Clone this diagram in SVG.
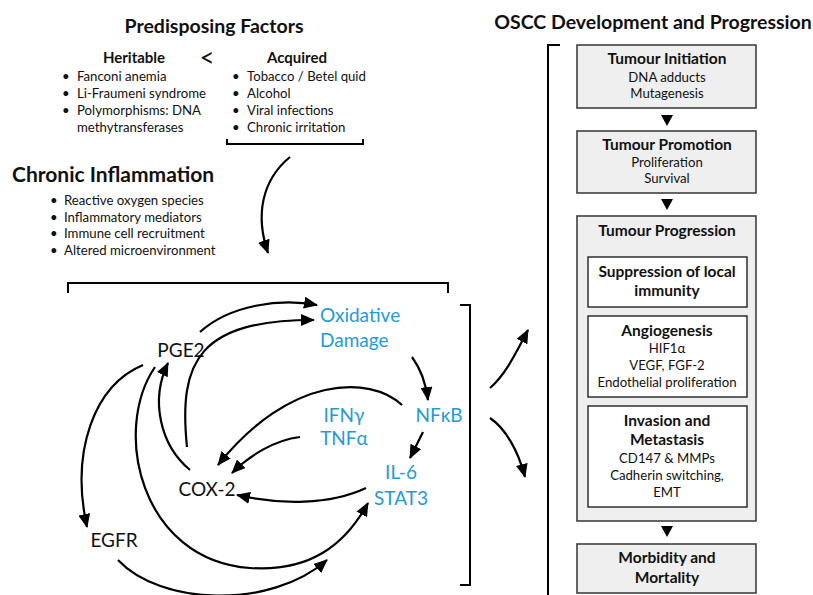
<svg xmlns="http://www.w3.org/2000/svg" width="813" height="595" viewBox="0 0 813 595">
<style>
text{font-family:Lato,"Open Sans","Liberation Sans",sans-serif;fill:#111}
.h1{font-size:19.5px;font-weight:bold}
.h2{font-size:15px;font-weight:bold}
.li{font-size:13.2px}
.bt{font-size:15.5px;font-weight:bold;text-anchor:middle}
.bb{font-size:13.2px;text-anchor:middle}
.node{font-size:19px}
.blue{fill:#1F9BD7}
.br{fill:none;stroke:#000;stroke-width:2}
.box{fill:#EFEFEF;stroke:#404040;stroke-width:1.6}
.ibox{fill:#fff;stroke:#222;stroke-width:1.4}
.con{fill:none;stroke:#000;stroke-width:2.2;marker-end:url(#ah)}
</style>
<defs>
<marker id="ah" markerUnits="userSpaceOnUse" viewBox="0 0 14 12" markerWidth="14" markerHeight="12" refX="13" refY="6" orient="auto">
<path d="M0,0 L14,6 L0,12 z" fill="#000"/>
</marker>
</defs>
<rect width="813" height="595" fill="#fff"/>

<g id="predisposing">
<text class="h1" x="214" y="33" text-anchor="middle">Predisposing Factors</text>
<text class="h2" x="134" y="63" text-anchor="middle">Heritable</text>
<text x="207" y="67" font-size="26" text-anchor="middle">&lt;</text>
<text class="h2" x="297" y="63" text-anchor="middle">Acquired</text>
<g class="li">
<text x="62" y="81">•</text><text x="77" y="81">Fanconi anemia</text>
<text x="62" y="98">•</text><text x="77" y="98">Li-Fraumeni syndrome</text>
<text x="62" y="115">•</text><text x="77" y="115">Polymorphisms: DNA</text>
<text x="77" y="132">methytransferases</text>
<text x="232" y="81">•</text><text x="247" y="81">Tobacco / Betel quid</text>
<text x="232" y="98">•</text><text x="247" y="98">Alcohol</text>
<text x="232" y="115">•</text><text x="247" y="115">Viral infections</text>
<text x="232" y="132">•</text><text x="247" y="132">Chronic irritation</text>
</g>
<path class="br" d="M227 139 L227 144 L363 144 L363 139"/>
</g>

<g id="chronic-inflammation">
<text class="h1" x="12" y="182" style="font-size:21px">Chronic Inflammation</text>
<g class="li">
<text x="50" y="205">•</text><text x="64" y="205">Reactive oxygen species</text>
<text x="50" y="222">•</text><text x="64" y="222">Inflammatory mediators</text>
<text x="50" y="238">•</text><text x="64" y="238">Immune cell recruitment</text>
<text x="50" y="255">•</text><text x="64" y="255">Altered microenvironment</text>
</g>
</g>

<g id="brackets">
<path class="br" d="M68 293 L68 283 L448 283 L448 293"/>
<path class="br" d="M460 305 L470 305 L470 585 L460 585"/>
<path class="br" d="M560 45 L548 45 L548 600"/>
</g>

<g id="pge2"><text class="node" x="181" y="357" text-anchor="middle">PGE2</text></g>
<g id="cox2"><text class="node" x="207" y="496" text-anchor="middle">COX-2</text></g>
<g id="egfr"><text class="node" x="114" y="547" text-anchor="middle">EGFR</text></g>
<g id="oxidative"><text class="node blue" x="320" y="322">Oxidative</text><text class="node blue" x="320" y="347">Damage</text></g>
<g id="nfkb"><text class="node blue" x="439" y="422" text-anchor="middle">NFκB</text></g>
<g id="ifn-tnf"><text class="node blue" x="344" y="422" text-anchor="middle">IFNγ</text><text class="node blue" x="344" y="445" text-anchor="middle">TNFα</text></g>
<g id="il6-stat3"><text class="node blue" x="401" y="479" text-anchor="middle">IL-6</text><text class="node blue" x="401" y="505" text-anchor="middle">STAT3</text></g>

<g id="oscc">
<text class="h1" x="653" y="29" text-anchor="middle">OSCC Development and Progression</text>
<g id="initiation">
<rect class="box" x="577" y="45" width="179" height="63"/>
<text class="bt" x="667" y="64">Tumour Initiation</text>
<text class="bb" x="667" y="82">DNA adducts</text>
<text class="bb" x="667" y="98">Mutagenesis</text>
</g>
<g id="promotion">
<rect class="box" x="577" y="131" width="179" height="62"/>
<text class="bt" x="667" y="150">Tumour Promotion</text>
<text class="bb" x="667" y="167">Proliferation</text>
<text class="bb" x="667" y="183">Survival</text>
</g>
<g id="progression">
<rect class="box" x="577" y="216" width="179" height="305"/>
<text class="bt" x="667" y="236">Tumour Progression</text>
<g id="suppression">
<rect class="ibox" x="588" y="257" width="159" height="50"/>
<text class="bt" x="667" y="277">Suppression of local</text>
<text class="bt" x="667" y="296">immunity</text>
</g>
<g id="angiogenesis">
<rect class="ibox" x="588" y="316" width="159" height="81"/>
<text class="bt" x="667" y="336">Angiogenesis</text>
<text class="bb" x="667" y="353">HIF1α</text>
<text class="bb" x="667" y="370">VEGF, FGF-2</text>
<text class="bb" x="667" y="387">Endothelial proliferation</text>
</g>
<g id="invasion">
<rect class="ibox" x="588" y="406" width="159" height="101"/>
<text class="bt" x="667" y="426">Invasion and</text>
<text class="bt" x="667" y="445">Metastasis</text>
<text class="bb" x="667" y="463">CD147 &amp; MMPs</text>
<text class="bb" x="667" y="480">Cadherin switching,</text>
<text class="bb" x="667" y="497">EMT</text>
</g>
</g>
<g id="morbidity">
<rect class="box" x="577" y="544" width="179" height="49"/>
<text class="bt" x="667" y="563">Morbidity and</text>
<text class="bt" x="667" y="583">Mortality</text>
</g>
</g>

<g id="connectors">
<polygon points="661,115 673,115 667,126" fill="#000"/>
<polygon points="661,199 673,199 667,210" fill="#000"/>
<polygon points="661,526 673,526 667,537" fill="#000"/>
<path class="con" d="M290 157 C262 180 255 215 268 253"/>
<path class="con" d="M412 357 Q425 375 428 400"/>
<path class="con" d="M423 432 L410 458"/>
<path class="con" d="M402 405 C370 375 290 375 218 465"/>
<path class="con" d="M300 437 C275 440 250 455 232 473"/>
<path class="con" d="M366 488 C330 505 280 505 237 495"/>
<path class="con" d="M190 470 C160 445 150 400 168 363"/>
<path class="con" d="M187 447 C178 360 200 320 314 320"/>
<path class="con" d="M200 332 C230 305 280 298 317 305"/>
<path class="con" d="M143 365 C95 385 70 450 87 527"/>
<path class="con" d="M155 367 C112 430 140 560 250 568 C310 572 345 545 368 503"/>
<path class="con" d="M118 560 C160 605 270 610 327 560"/>
<path class="con" d="M490 388 C505 375 515 355 528 330"/>
<path class="con" d="M490 418 C505 428 518 450 525 477"/>
</g>
</svg>
